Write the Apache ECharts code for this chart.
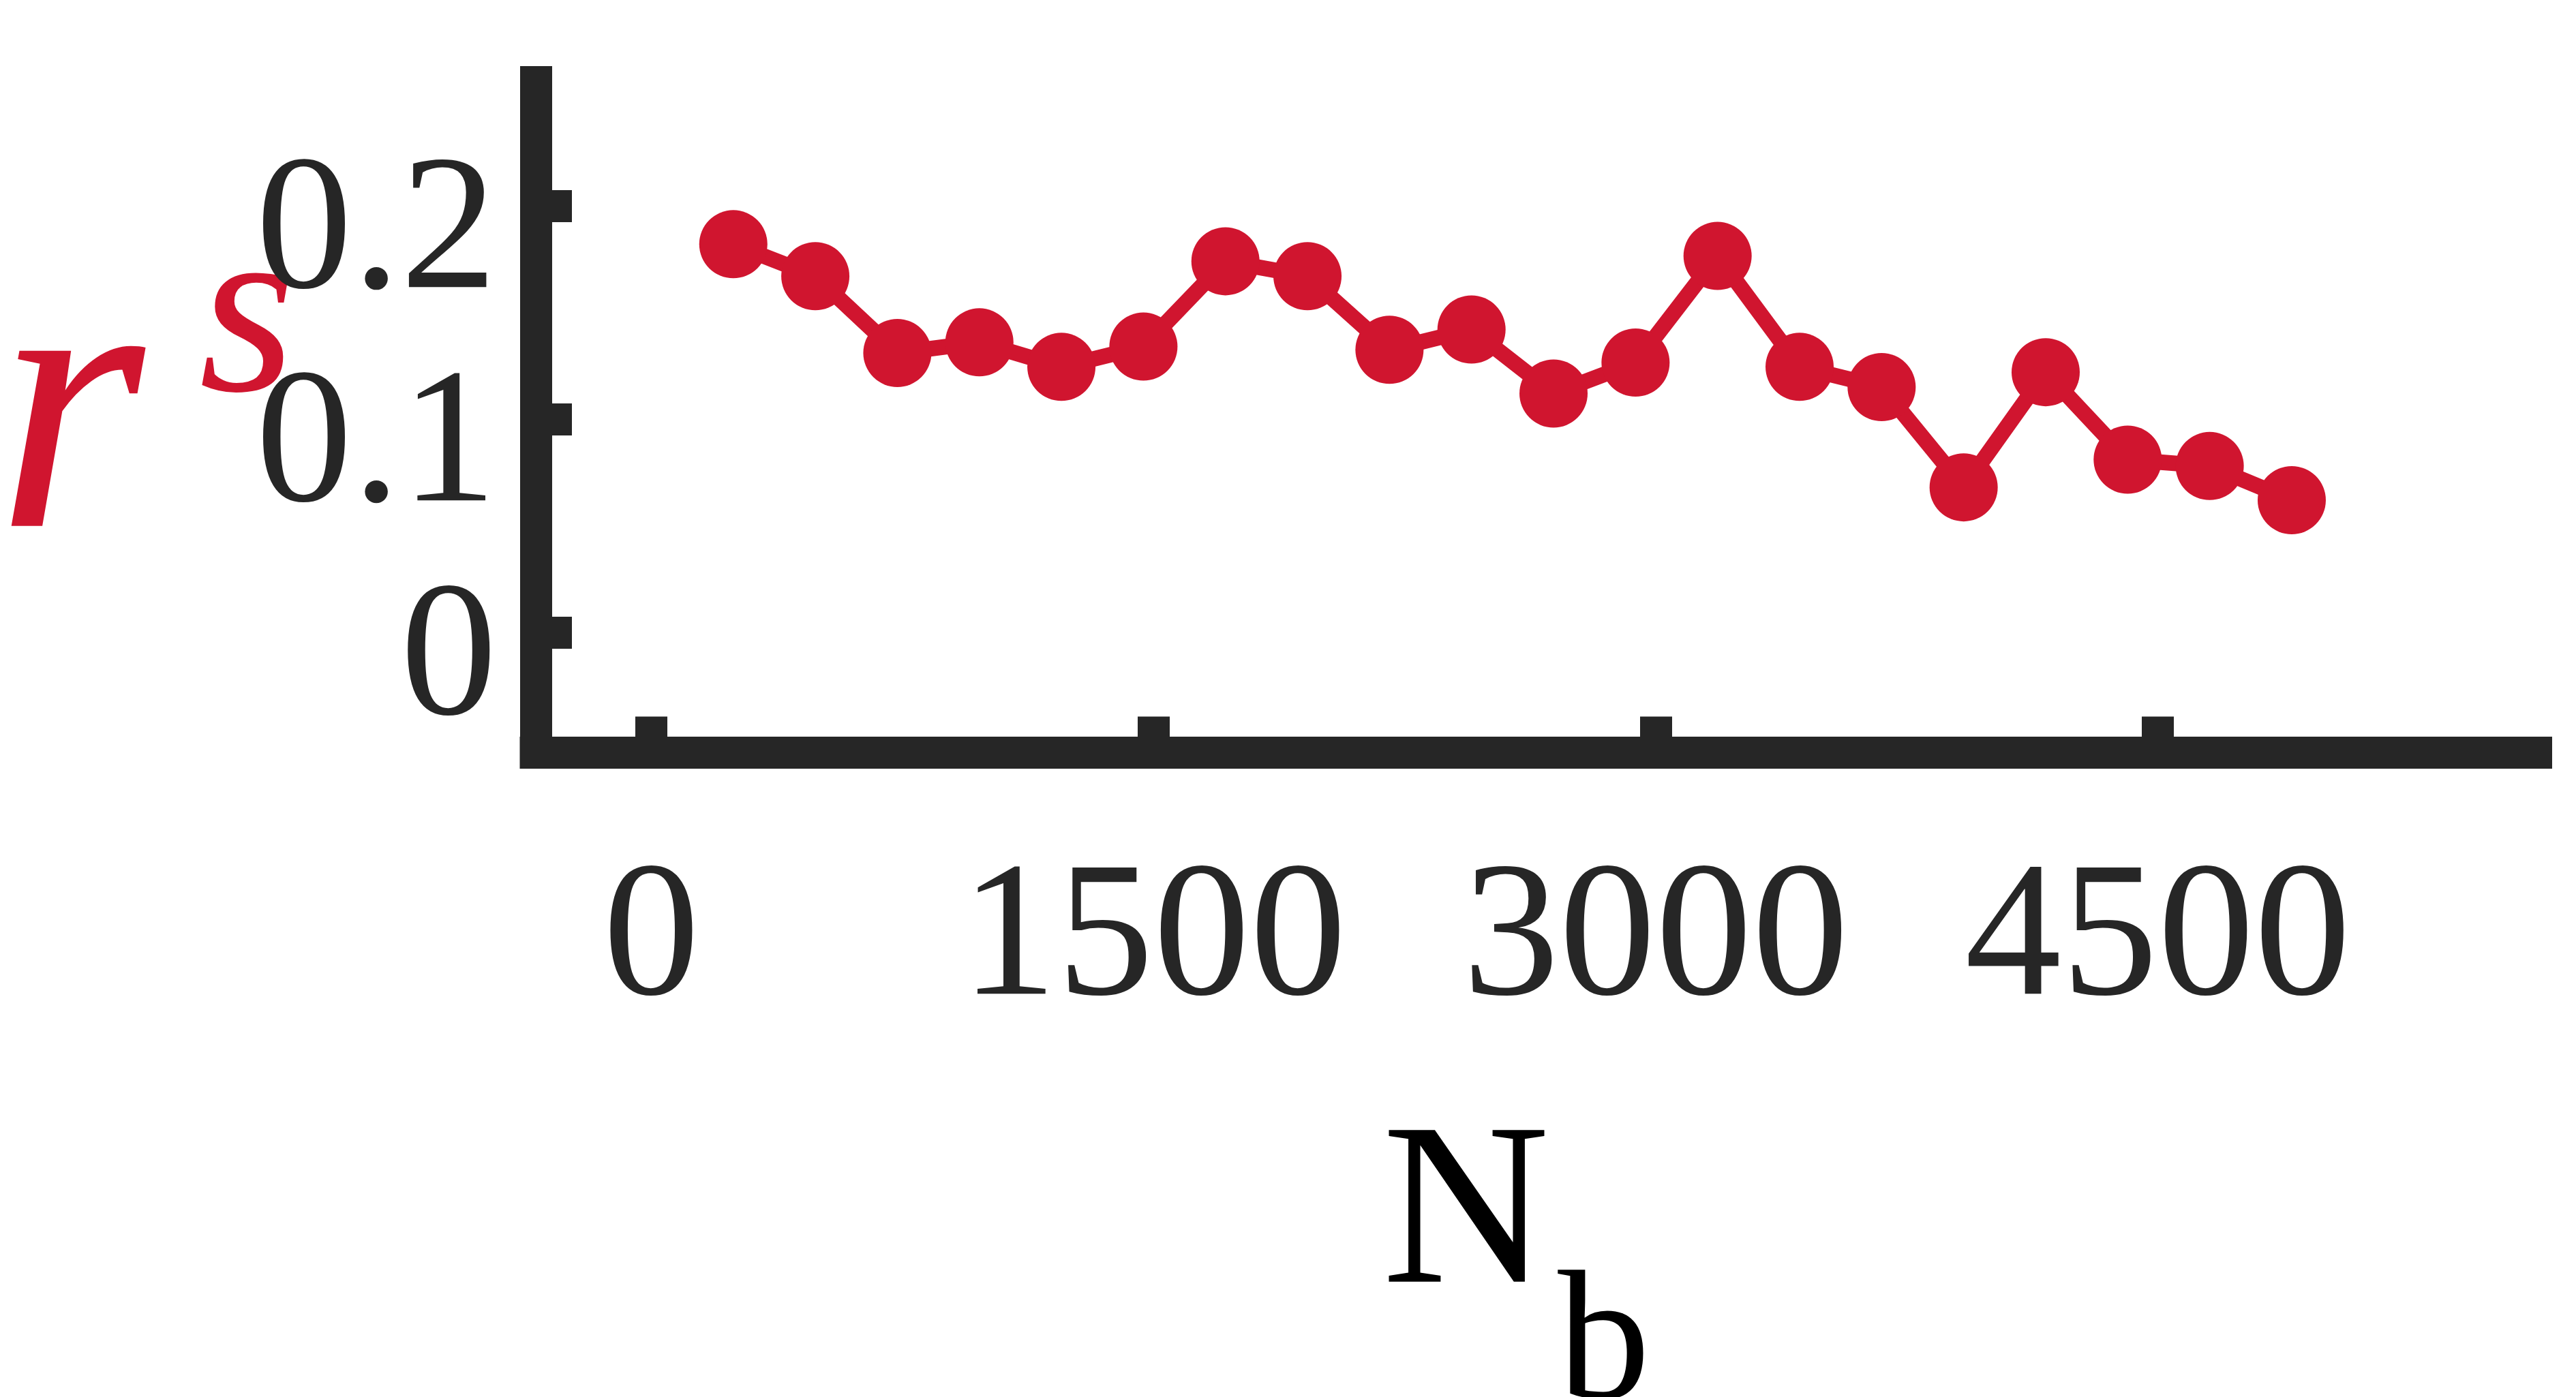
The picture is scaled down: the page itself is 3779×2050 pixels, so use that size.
<!DOCTYPE html>
<html>
<head>
<meta charset="utf-8" />
<title>r^s vs N_b</title>
<script src="https://cdn.jsdelivr.net/npm/echarts@6/dist/echarts.min.js"></script>
<style>
  html, body { margin: 0; padding: 0; background: #fff; }
  #chart-panel { width: 3779px; height: 2050px; }
</style>
</head>
<body>
<div id="chart-panel"></div>
<script>
// 数据
const nbValues = [245, 490, 735, 980, 1225, 1470, 1715, 1960, 2205, 2450,
  2695, 2940, 3185, 3430, 3675, 3920, 4165, 4410, 4655, 4900];
const rsValues = [0.182, 0.167, 0.131, 0.136, 0.1245, 0.134, 0.174, 0.167, 0.1325, 0.142,
  0.112, 0.1265, 0.1765, 0.1245, 0.115, 0.068, 0.122, 0.081, 0.078, 0.062];
const xTickValues = [0, 1500, 3000, 4500];
const yTickValues = [0, 0.1, 0.2];

const red = "#D0152F";
const axisColor = "#262626";
const font = "'Liberation Serif', 'Times New Roman', Times, serif";

let seriesData = [];
nbValues.forEach((x, i) => seriesData.push([x, rsValues[i]]));

let chartPanel = echarts.init(document.getElementById("chart-panel"));
let option = {
  backgroundColor: "#fff",
  animation: false,
  grid: {
    left: 786,
    right: 58.5,
    top: 120.5,
    bottom: 945.5,
    containLabel: false,
    outerBoundsMode: "none",
  },
  xAxis: {
    type: "value",
    min: -345,
    max: 5630,
    splitLine: { show: false },
    axisLine: {
      onZero: false,
      lineStyle: { color: axisColor, width: 47, cap: "square" },
    },
    axisTick: {
      inside: true,
      length: 53,
      customValues: xTickValues,
      lineStyle: { color: axisColor, width: 47 },
    },
    axisLabel: {
      customValues: xTickValues,
      formatter: (v) => String(v), // 不要千分位
      margin: 138,
      color: axisColor,
      fontFamily: font,
      fontSize: 283,
    },
    name: "{n|N}{b|b}",
    nameLocation: "middle",
    nameGap: 517,
    nameMoveOverlap: false,
    nameTextStyle: {
      padding: [0, 58, 0, 0],
      rich: {
        n: { fontFamily: font, fontSize: 340, lineHeight: 340, color: "#000" },
        // 下标 b
        b: { fontFamily: font, fontSize: 271, lineHeight: 271, color: "#000", padding: [377, 0, 0, 12] },
      },
    },
  },
  yAxis: {
    type: "value",
    min: -0.0564,
    max: 0.258,
    splitLine: { show: false },
    axisLine: {
      onZero: false,
      lineStyle: { color: axisColor, width: 47, cap: "square" },
    },
    axisTick: {
      inside: true,
      length: 53,
      customValues: yTickValues,
      lineStyle: { color: axisColor, width: 47 },
    },
    axisLabel: {
      customValues: yTickValues,
      margin: 57,
      color: axisColor,
      fontFamily: font,
      fontSize: 283,
      verticalAlign: "top",
      lineHeight: 90, // 标签比刻度略低
    },
    name: "{r|r}{s|s}",
    nameLocation: "middle",
    nameRotate: 0,
    nameGap: 352,
    nameMoveOverlap: false,
    nameTextStyle: {
      padding: [24, 0, 0, 0],
      rich: {
        r: { fontFamily: font, fontStyle: "italic", fontSize: 560, lineHeight: 560, color: red },
        // 上标 s
        s: { fontFamily: font, fontStyle: "italic", fontSize: 365, lineHeight: 365, color: red, padding: [0, 0, 296, 80] },
      },
    },
  },
  series: [
    {
      type: "line",
      data: seriesData,
      symbol: "circle",
      symbolSize: 100,
      showAllSymbol: true,
      lineStyle: { color: red, width: 23 },
      itemStyle: { color: red },
    },
  ],
};
chartPanel.setOption(option);
</script>
</body>
</html>
